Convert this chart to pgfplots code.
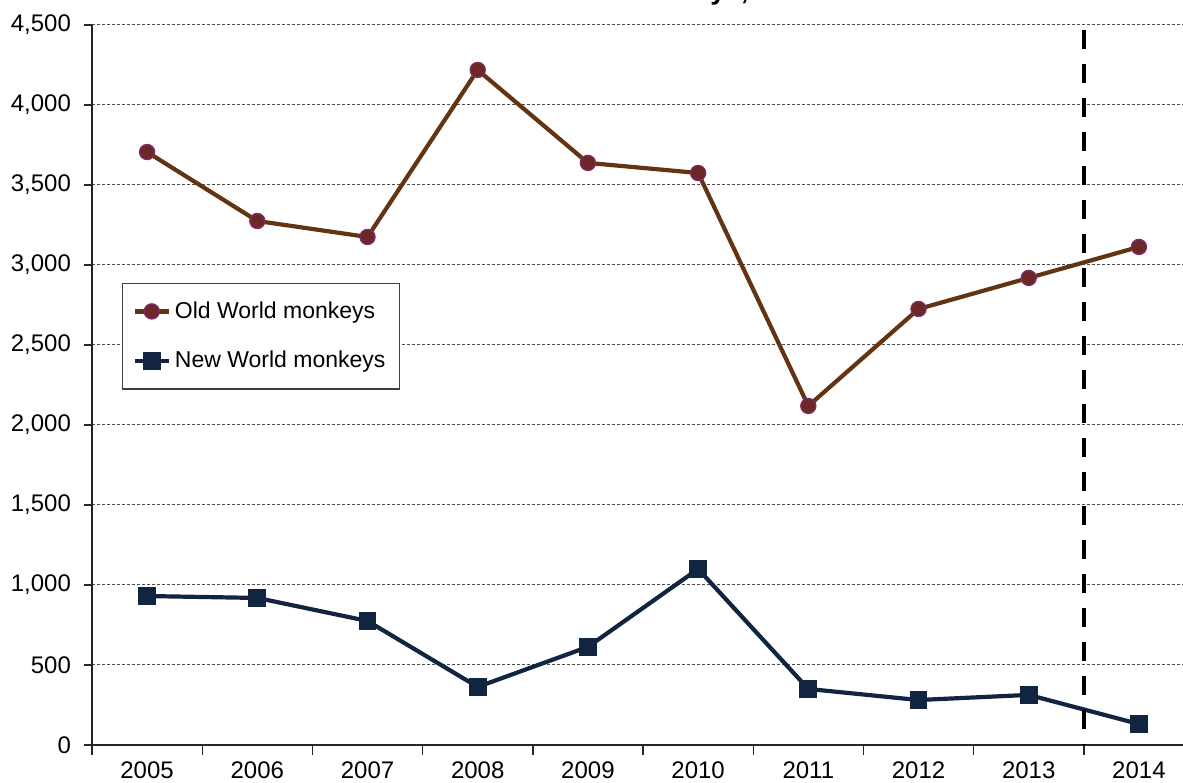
\documentclass[border=0pt]{standalone}
\usepackage{pgfplots}
\pgfplotsset{compat=1.18}
\usepackage{fontspec}
\setmainfont{Liberation Sans}
\usetikzlibrary{calc}

\definecolor{oldline}{RGB}{99,52,18}
\definecolor{oldfill}{RGB}{108,40,40}
\definecolor{oldedge}{RGB}{125,45,105}
\definecolor{newcol}{RGB}{18,37,64}

\begin{document}
\begin{tikzpicture}
\begin{axis}[
    scale only axis,
    width=545.5pt, height=360pt,
    xmin=-0.5, xmax=9.4,
    ymin=0, ymax=4500,
    axis x line*=bottom, axis y line*=left,
    axis line style={-, black!85, line width=0.7pt},
    xtick={0,...,9},
    xticklabels={2005,2006,2007,2008,2009,2010,2011,2012,2013,2014},
    minor xtick={-0.5,0.5,...,8.5},
    major x tick style={draw=none},
    minor tick length=5pt,
    ytick={0,500,...,4500},
    major tick length=4pt,
    tick align=outside,
    tick style={black!85, line width=0.7pt},
    ymajorgrids,
    major grid style={black!70, line width=0.5pt, dash pattern=on 1.5pt off 1pt},
    ticklabel style={font=\fontsize{12}{14}\selectfont},
    xticklabel style={yshift=-1pt},
    yticklabel style={/pgf/number format/fixed, xshift=-3pt},
    /pgf/number format/assume math mode=true,
    /pgf/number format/1000 sep={,},
    legend style={at={(0.0275,0.6417)}, anchor=north west,
        draw=black!75, line width=0.6pt, inner xsep=5pt, inner ysep=7pt,
        font=\fontsize{11.5}{13.5}\selectfont, row sep=11pt},
    legend cell align=left,
]

\addplot[color=oldline, line width=2.1pt, mark=*, mark size=3.8pt,
    mark options={fill=oldfill, draw=oldedge, line width=0.6pt}]
    coordinates {
        (0,3706) (1,3275) (2,3175) (3,4219) (4,3638)
        (5,3575) (6,2119) (7,2725) (8,2919) (9,3113)
    };
\addlegendentry{Old World monkeys}

\addplot[color=newcol, line width=2.1pt, mark=square*, mark size=3.4pt,
    mark options={fill=newcol, draw=newcol}]
    coordinates {
        (0,931) (1,919) (2,775) (3,363) (4,613)
        (5,1100) (6,350) (7,281) (8,313) (9,131)
    };
\addlegendentry{New World monkeys}

\addplot[black, line width=2pt, dash pattern=on 9.5pt off 7.5pt, forget plot]
    coordinates {(8.5,4470) (8.5,0)};

\end{axis}
\node[anchor=base, font=\bfseries\fontsize{13.8}{16}\selectfont]
    at ($(current axis.north west)+(245pt,12.8pt)$)
    {Old World and New World monkeys, 2005-2014};
\pgfresetboundingbox
\path[use as bounding box]
    ($(current axis.south west)+(-46pt,-19pt)$) rectangle
    ($(current axis.north east)+(0pt,12.5pt)$);
\end{tikzpicture}
\end{document}
